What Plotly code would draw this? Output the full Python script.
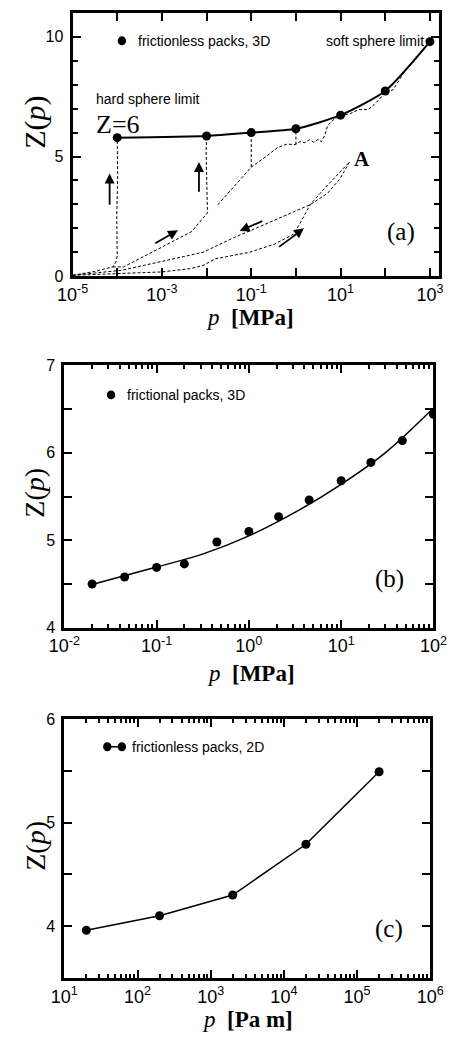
import numpy as np
import plotly.graph_objects as go

W, H = 458, 1042

# ---------------- Panel (a) data ----------------
p_a = [1e-4, 1e-2, 1e-1, 1, 10, 100, 1000]
z_a = [5.79, 5.86, 6.0, 6.16, 6.73, 7.74, 9.8]

traj1_logp = [-5.0, -4.5, -4.1, -4.03, -4.0, -4.01, -3.99, -4.0]
traj1_z = [0.04, 0.2, 0.39, 0.59, 0.86, 2.5, 4.2, 5.79]

traj2_logp = [-4.1, -3.86, -3.1, -2.33, -1.98, -2.0, -2.01, -2.0]
traj2_z = [0.39, 0.39, 1.12, 1.87, 2.65, 3.8, 5.2, 5.86]

traj3_logp = [-1.747, -1.0, -0.69, -0.41, -0.2, -0.02, 0.08, 0.2, 0.3, 0.4, 0.5,
              0.57, 0.65, 0.71, 0.85, 1.0, 1.2, 1.41, 1.62, 1.75, 1.89, 2.0,
              2.17, 2.24, 2.45, 2.66, 3.0]
traj3_z = [2.99, 4.56, 4.97, 5.38, 5.52, 5.5, 5.62, 5.58, 5.7, 5.6, 5.72,
           5.62, 5.9, 6.3, 6.55, 6.72, 6.78, 6.96, 6.96, 7.17, 7.44, 7.71,
           7.78, 7.99, 8.6, 9.01, 9.83]

drop1_logp = [-1.0, -1.0]
drop1_z = [4.56, 6.0]
drop2_logp = [0.0, 0.0]
drop2_z = [5.5, 6.16]

loopfwd_logp = [-5.0, -4.0, -3.0, -2.36, -2.08, -1.8, -1.52, -1.04, -0.48,
                -0.06, 0.08, 0.32, 0.64, 0.92, 1.197]
loopfwd_z = [0.04, 0.1, 0.18, 0.32, 0.45, 0.73, 0.82, 1.0, 1.34,
             1.75, 2.17, 2.99, 3.67, 4.22, 4.77]

loopret_logp = [1.197, 0.99, 0.71, 0.32, -0.69, -1.38, -2.08, -3.9, -5.0]
loopret_z = [4.77, 4.08, 3.47, 2.99, 2.17, 1.62, 1.0, 0.25, 0.04]

# arrows: (tail logp, tail z, head logp, head z)
arrows_a = [(-4.17, 2.92, -4.17, 4.29),
            (-2.17, 3.47, -2.17, 4.77),
            (-3.18, 1.34, -2.64, 1.92),
            (-0.72, 2.33, -1.26, 1.89),
            (-0.41, 1.18, 0.18, 2.0)]

# ---------------- Panel (b) data ----------------
p_b = [0.02, 0.045, 0.1, 0.2, 0.45, 1.0, 2.1, 4.5, 10, 21, 46, 100]
z_b = [4.50, 4.58, 4.69, 4.73, 4.98, 5.10, 5.27, 5.46, 5.68, 5.89, 6.14, 6.44]
fit_p = [0.02, 0.1, 0.32, 1, 3.3, 10, 30, 95]
fit_z = [4.495, 4.694, 4.844, 5.05, 5.33, 5.64, 6.0, 6.49]

# ---------------- Panel (c) data ----------------
p_c = [20, 200, 2000, 20000, 200000]
z_c = [3.96, 4.10, 4.30, 4.79, 5.49]

SANS = "Liberation Sans, Arial, sans-serif"
SERIF = "Liberation Serif, Times New Roman, serif"


def px(x):
    return x / W


def py(y):
    return 1 - y / H


def lp(v):
    return list(10 ** np.array(v, dtype=float))


fig = go.Figure()

dash = dict(color="black", width=1, dash="3px,2px")
for lx, lz in [(traj1_logp, traj1_z), (traj2_logp, traj2_z), (traj3_logp, traj3_z),
               (drop1_logp, drop1_z), (drop2_logp, drop2_z),
               (loopfwd_logp, loopfwd_z), (loopret_logp, loopret_z)]:
    fig.add_trace(go.Scatter(x=lp(lx), y=lz, mode="lines", line=dash,
                             xaxis="x", yaxis="y", showlegend=False))

fig.add_trace(go.Scatter(x=p_a, y=z_a, mode="lines+markers",
                         line=dict(color="black", width=2, shape="spline", smoothing=0.6),
                         marker=dict(color="black", size=9),
                         xaxis="x", yaxis="y", showlegend=False))

fig.add_trace(go.Scatter(x=fit_p, y=fit_z, mode="lines",
                         line=dict(color="black", width=1.5, shape="spline"),
                         xaxis="x2", yaxis="y2", showlegend=False))
fig.add_trace(go.Scatter(x=p_b, y=z_b, mode="markers",
                         marker=dict(color="black", size=9),
                         xaxis="x2", yaxis="y2", showlegend=False))

fig.add_trace(go.Scatter(x=p_c, y=z_c, mode="lines+markers",
                         line=dict(color="black", width=1.5),
                         marker=dict(color="black", size=9),
                         xaxis="x3", yaxis="y3", showlegend=False))


def minor_vals(lo, hi):
    v = []
    for e in range(lo, hi):
        for m in range(2, 10):
            v.append(m * 10.0 ** e)
    return v


def sup(e):
    return "10<sup>%d</sup>" % e


common_x = dict(type="log", showgrid=False, zeroline=False, showline=True,
                linecolor="black", linewidth=3, mirror="allticks",
                ticks="inside", ticklen=8, tickwidth=2, tickcolor="black",
                tickfont=dict(family=SANS, size=18, color="black"))
common_y = dict(showgrid=False, zeroline=False, showline=True,
                linecolor="black", linewidth=3, mirror="allticks",
                ticks="inside", ticklen=8, tickwidth=2, tickcolor="black",
                ticklabelstandoff=3,
                tickfont=dict(family=SANS, size=16, color="black"))

fig.update_layout(
    width=W, height=H, autosize=False,
    margin=dict(l=0, r=0, t=0, b=0),
    paper_bgcolor="white", plot_bgcolor="white",
    showlegend=False,
    xaxis=dict(common_x, domain=[px(60.5), px(453)], range=[-5, 3.21],
               tickvals=[10.0 ** e for e in range(-5, 4)],
               ticktext=[sup(e) if e % 2 else " " for e in range(-5, 4)],
               anchor="y"),
    yaxis=dict(common_y, domain=[py(272.7), py(5)], range=[0, 11],
               tickvals=[0, 5, 10], ticktext=["0", "5", "10"],
               minor=dict(ticks="inside", ticklen=5, tickwidth=2, dtick=1, tickcolor="black"),
               anchor="x"),
    xaxis2=dict(common_x, domain=[px(51.7), px(446.7)], range=[-2, 2],
                tickvals=[10.0 ** e for e in range(-2, 3)],
                ticktext=[sup(e) for e in range(-2, 3)],
                minor=dict(ticks="inside", ticklen=4, tickwidth=1.5,
                           tickvals=minor_vals(-2, 2), tickcolor="black"),
                anchor="y2"),
    yaxis2=dict(common_y, domain=[py(630), py(363.3)], range=[4, 7],
                tickvals=[4, 5, 6, 7], ticktext=["4", "5", "6", "7"],
                minor=dict(ticks="inside", ticklen=8, tickwidth=2, dtick=0.5, tickcolor="black"),
                anchor="x2"),
    xaxis3=dict(common_x, domain=[px(51.7), px(443.3)], range=[1, 6],
                tickvals=[10.0 ** e for e in range(1, 7)],
                ticktext=[sup(e) for e in range(1, 7)],
                minor=dict(ticks="inside", ticklen=4, tickwidth=1.5,
                           tickvals=minor_vals(1, 6), tickcolor="black"),
                anchor="y3"),
    yaxis3=dict(common_y, domain=[py(986), py(722.7)], range=[3.5, 6],
                tickvals=[4, 5, 6], ticktext=["4", "5", "6"],
                minor=dict(ticks="inside", ticklen=8, tickwidth=2, dtick=0.5, tickcolor="black"),
                anchor="x3"),
)

ann = []
# arrows
for tx, tz, hx, hz in arrows_a:
    ann.append(dict(x=hx, y=hz, ax=tx, ay=tz, xref="x", yref="y", axref="x", ayref="y",
                    text="", showarrow=True, arrowhead=2, arrowsize=1.1,
                    arrowwidth=1.8, arrowcolor="black"))


def txt(x, y, s, font, size, xanchor="left", angle=0):
    ann.append(dict(x=px(x), y=py(y), xref="paper", yref="paper", text=s,
                    showarrow=False, xanchor=xanchor, yanchor="middle",
                    textangle=angle,
                    font=dict(family=font, size=size, color="black")))


# panel a texts
txt(128, 33.5, "frictionless packs, 3D", SANS, 14)
txt(330, 33.5, "soft sphere limit", SANS, 14)
txt(84, 93, "hard sphere limit", SANS, 14)
txt(84, 118, "Z=6", SERIF, 26)
txt(370, 154, "<b>A</b>", SERIF, 21, xanchor="center")
txt(412, 228, "(a)", SERIF, 25, xanchor="center")
txt(250, 315, "<i>p</i>  <b>[MPa]</b>", SERIF, 23, xanchor="center")
txt(20, 116, "Z(<i>p</i>)", SERIF, 30, xanchor="center", angle=-90)

# panel b texts
txt(117, 393.3, "frictional packs, 3D", SANS, 14)
txt(400, 580, "(b)", SERIF, 25, xanchor="center")
txt(251, 677, "<i>p</i>  <b>[MPa]</b>", SERIF, 23, xanchor="center")
txt(20, 493, "Z(<i>p</i>)", SERIF, 28, xanchor="center", angle=-90)

# panel c texts
txt(121.7, 751, "frictionless packs, 2D", SANS, 14)
txt(399, 936.7, "(c)", SERIF, 25, xanchor="center")
txt(248, 1028, "<i>p</i>  <b>[Pa m]</b>", SERIF, 23, xanchor="center")
txt(20, 852, "Z(<i>p</i>)", SERIF, 28, xanchor="center", angle=-90)

fig.update_layout(annotations=ann)

# legend symbols as shapes
shapes = []
r = 4.5


def dot(cx, cy):
    shapes.append(dict(type="circle", xref="paper", yref="paper",
                       x0=px(cx - r), x1=px(cx + r), y0=py(cy + r), y1=py(cy - r),
                       fillcolor="black", line=dict(color="black", width=0)))


dot(113.3, 33.3)
dot(101.7, 393.3)
shapes.append(dict(type="line", xref="paper", yref="paper",
                   x0=px(97.7), x1=px(113.3), y0=py(751), y1=py(751),
                   line=dict(color="black", width=1.5)))
dot(97.7, 751)
dot(113.3, 751)
fig.update_layout(shapes=shapes)

fig.write_html("out.html", config={"displayModeBar": False},
               post_script="document.body.style.margin='0';")
